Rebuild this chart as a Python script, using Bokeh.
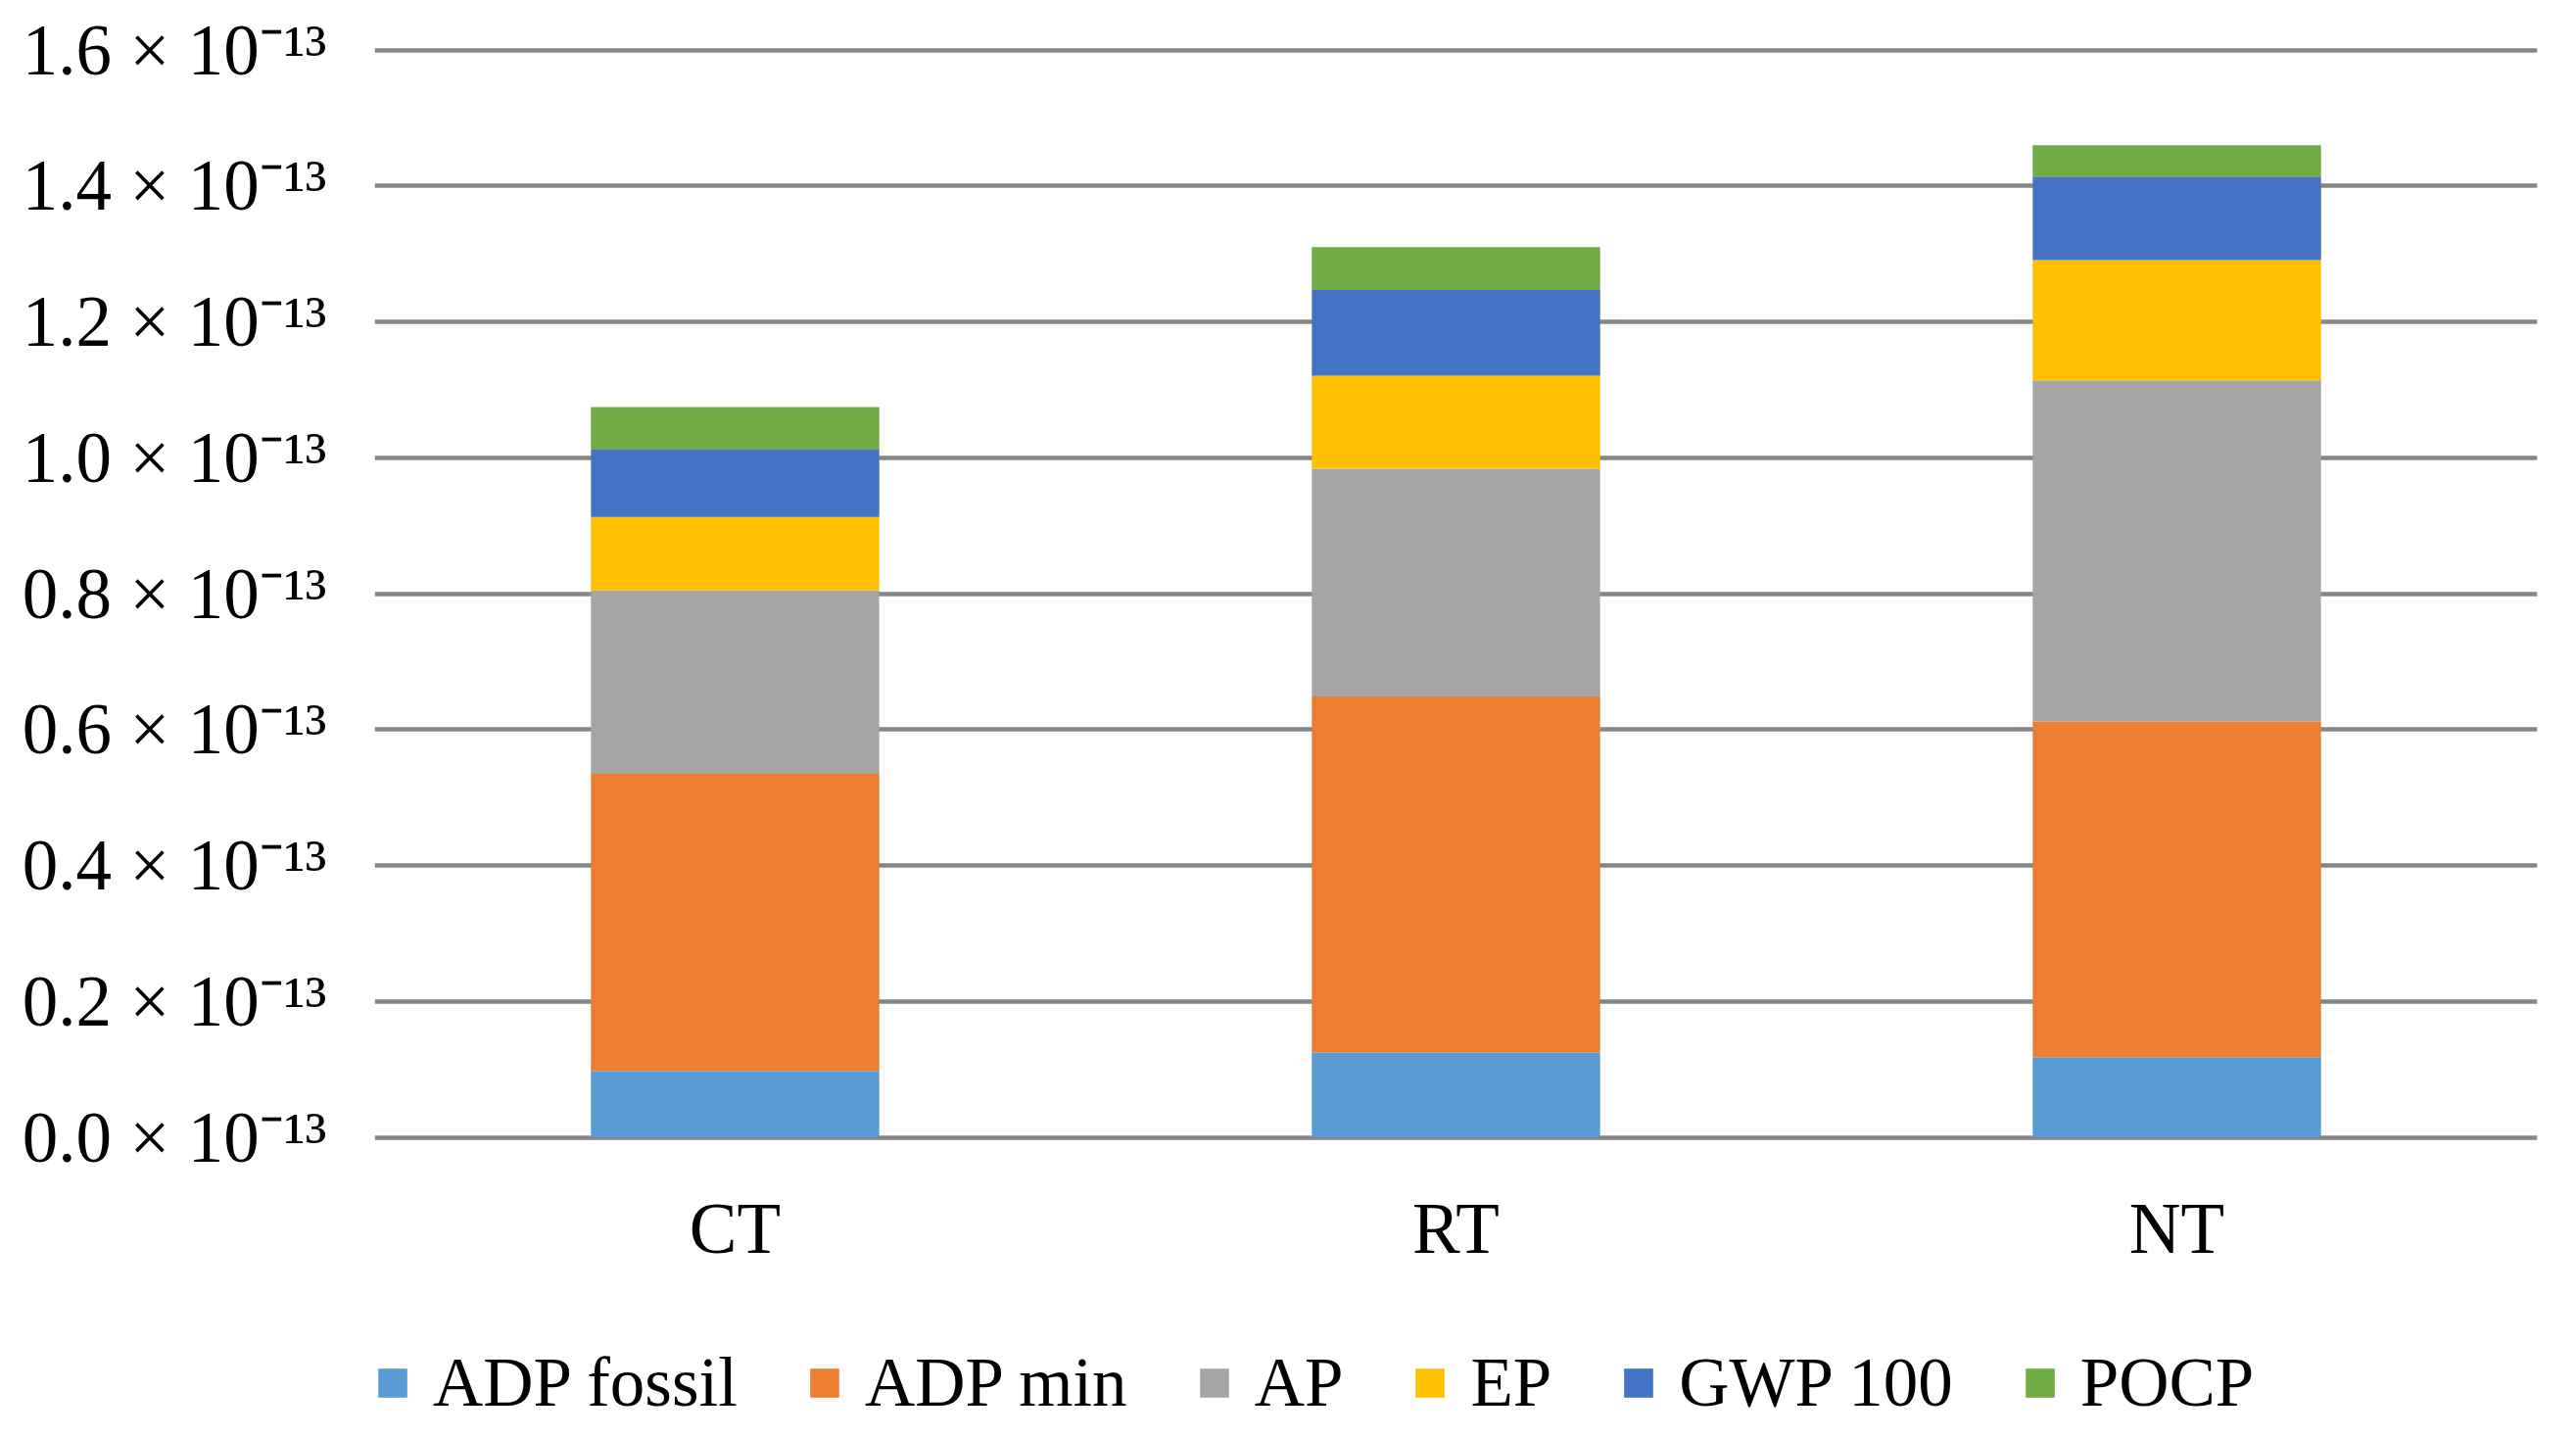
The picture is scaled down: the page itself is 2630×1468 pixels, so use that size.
from bokeh.plotting import figure
from bokeh.models import (Range1d, FactorRange, FixedTicker, CustomJSTickFormatter, Legend,
                          LegendItem, LabelSet, ColumnDataSource)
from bokeh.embed import file_html
from bokeh.resources import INLINE

# Data (values in units of 10^-13)
categories = ["CT", "RT", "NT"]
series = ["ADP fossil", "ADP min", "AP", "EP", "GWP 100", "POCP"]
adp_fossil = [0.098, 0.125, 0.118]
adp_min = [0.437, 0.524, 0.494]
ap = [0.270, 0.335, 0.502]
ep = [0.108, 0.137, 0.177]
gwp_100 = [0.099, 0.126, 0.123]
pocp = [0.063, 0.063, 0.046]
y_ticks = [0.0, 0.2, 0.4, 0.6, 0.8, 1.0, 1.2, 1.4, 1.6]
colors = ["#5B9BD5", "#ED7D31", "#A5A5A5", "#FFC000", "#4472C4", "#70AD47"]

FONT = "Liberation Serif"

data = {"cat": categories, "ADP fossil": adp_fossil, "ADP min": adp_min, "AP": ap,
        "EP": ep, "GWP 100": gwp_100, "POCP": pocp}

p = figure(width=2614, height=1452, x_range=FactorRange(*categories, range_padding=0),
           y_range=Range1d(-0.42, 1.6125), output_backend="svg", toolbar_location=None,
           x_axis_location=None,
           min_border_left=382, min_border_right=24, min_border_top=42, min_border_bottom=0)
p.x_range.range_padding = 0

renderers = p.vbar_stack(series, x="cat", width=0.4, color=colors, source=data, line_width=0)

p.outline_line_color = None
p.background_fill_color = "white"
p.border_fill_color = "white"

p.xgrid.grid_line_color = None
p.ygrid.ticker = FixedTicker(ticks=y_ticks)
p.ygrid.grid_line_color = "#868686"
p.ygrid.grid_line_width = 4.5
p.ygrid.level = "underlay"

p.yaxis.ticker = FixedTicker(ticks=y_ticks)
p.yaxis.formatter = CustomJSTickFormatter(code="return tick.toFixed(1) + ' \u00d7 10\u207b\u00b9\u00b3';")
p.yaxis.axis_line_color = None
p.yaxis.major_tick_line_color = None
p.yaxis.minor_tick_line_color = None
p.yaxis.major_tick_out = 0
p.yaxis.major_tick_in = 0
p.yaxis.major_label_standoff = 49
p.yaxis.major_label_text_font = FONT
p.yaxis.major_label_text_font_size = "73px"
p.yaxis.major_label_text_color = "#000000"

# category labels under the bars
cat_src = ColumnDataSource(data={"cat": categories, "label": categories})
cat_labels = LabelSet(x="cat", y=198, y_units="screen", text="label", source=cat_src,
                      text_align="center", text_baseline="middle", text_font=FONT,
                      text_font_size="73px", text_color="#000000")
p.add_layout(cat_labels)

items = [LegendItem(label=s, renderers=[r]) for s, r in zip(series, renderers)]
legend = Legend(items=items, orientation="horizontal", location=(0, 0),
                label_text_font=FONT, label_text_font_size="71px", label_text_color="#000000",
                glyph_width=37, glyph_height=37, label_standoff=23, spacing=70,
                padding=0, margin=0, border_line_color=None, background_fill_alpha=0)
p.add_layout(legend, "center")

open("out.html", "w").write(file_html(p, INLINE))
